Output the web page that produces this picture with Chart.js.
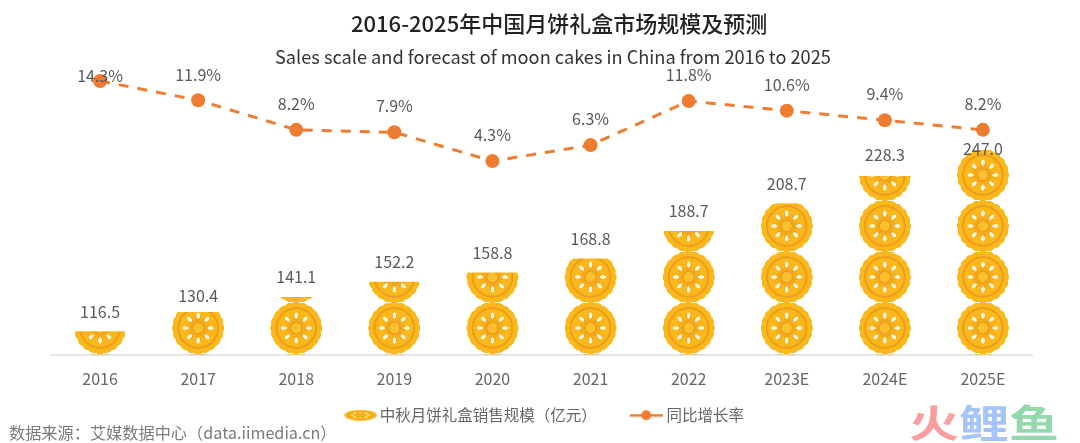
<!DOCTYPE html>
<html lang="zh">
<head>
<meta charset="utf-8">
<title>2016-2025年中国月饼礼盒市场规模及预测</title>
<script src="https://cdn.jsdelivr.net/npm/chart.js@4"></script>
<style>
  html, body { margin: 0; padding: 0; background: #fff; }
  #wrap { position: relative; width: 1080px; height: 443px; overflow: hidden; font-family: "Noto Sans CJK SC", sans-serif; }
  #grafico { position: absolute; left: 0; top: 0; }
  #titulo { position: absolute; left: 351px; top: 8px; font-size: 22px; line-height: 28px; font-weight: 500; color: #222; white-space: nowrap; }
  #subtitulo { position: absolute; left: 275px; top: 43px; font-size: 18.2px; line-height: 26px; color: #333; white-space: nowrap; }
  #fonte { position: absolute; left: 9px; top: 422px; font-size: 16.2px; line-height: 21px; color: #7a7a7a; white-space: nowrap; }
  #marca { position: absolute; left: 909px; top: 392px; font-size: 50px; line-height: 56px; font-weight: 700; white-space: nowrap; transform: scaleY(0.76); }
  #marca span { display: inline-block; width: 50px; text-align: center; }
</style>
</head>
<body>
<div id="wrap">
  <canvas id="grafico" width="1080" height="443"></canvas>
  <div id="titulo">2016-2025年中国月饼礼盒市场规模及预测</div>
  <div id="subtitulo">Sales scale and forecast of moon cakes in China from 2016 to 2025</div>
  <div id="fonte">数据来源：艾媒数据中心（data.iimedia.cn）</div>
  <div id="marca"><span style="color:#fb9ea0">火</span><span style="color:#a5c4fa">鲤</span><span style="color:#95d8ae">鱼</span></div>
</div>
<script>
// ---- data ----
const categorias = ['2016', '2017', '2018', '2019', '2020', '2021', '2022', '2023E', '2024E', '2025E'];
const vendas = [116.5, 130.4, 141.1, 152.2, 158.8, 168.8, 188.7, 208.7, 228.3, 247.0];
const crescimento = [14.3, 11.9, 8.2, 7.9, 4.3, 6.3, 11.8, 10.6, 9.4, 8.2];
const nomeVendas = '中秋月饼礼盒销售规模（亿元）';
const nomeCrescimento = '同比增长率';

const COR_LINHA = '#ee7d31';
const COR_TEXTO = '#595959';
const ALTURA_BOLO = 51;
const LARGURA_BOLO = 54;
const ESCALA_TILE = 3;

// one moon cake, repeated inside the bars as a pattern
function desenharBolo(ctx, cx, cy, r) {
    ctx.beginPath();
    for (let g = 0; g <= 720; g++) {
        const t = g * Math.PI / 360;
        const raio = r * (0.965 + 0.035 * Math.abs(Math.cos(t * 10)));
        ctx.lineTo(cx + raio * Math.cos(t), cy + raio * Math.sin(t));
    }
    ctx.closePath();
    ctx.fillStyle = '#fbb81c';
    ctx.fill();

    ctx.beginPath();
    ctx.arc(cx, cy, r * 0.76, 0, Math.PI * 2);
    ctx.strokeStyle = '#ee9f1a';
    ctx.lineWidth = r * 0.08;
    ctx.stroke();

    // flower: orange lobes, pale petals with white tips, centre ring
    for (let i = 0; i < 8; i++) {
        ctx.save();
        ctx.translate(cx, cy);
        ctx.rotate(i * Math.PI / 4);
        ctx.beginPath();
        ctx.moveTo(r * 0.1, 0);
        ctx.quadraticCurveTo(r * 0.36, r * 0.24, r * 0.64, 0);
        ctx.quadraticCurveTo(r * 0.36, -r * 0.24, r * 0.1, 0);
        ctx.closePath();
        ctx.fillStyle = '#f5aa1b';
        ctx.fill();
        ctx.beginPath();
        ctx.ellipse(r * 0.48, 0, r * 0.12, r * 0.07, 0, 0, Math.PI * 2);
        ctx.fillStyle = '#fff6d8';
        ctx.fill();
        ctx.restore();
    }
    ctx.beginPath();
    ctx.arc(cx, cy, r * 0.22, 0, Math.PI * 2);
    ctx.fillStyle = '#fbc02d';
    ctx.fill();
    ctx.strokeStyle = '#ee9f1a';
    ctx.lineWidth = r * 0.06;
    ctx.stroke();
}

const tile = document.createElement('canvas');
tile.width = LARGURA_BOLO * ESCALA_TILE;
tile.height = ALTURA_BOLO * ESCALA_TILE;
desenharBolo(tile.getContext('2d'), tile.width / 2, tile.height / 2, tile.height / 2 + 1.5);

function padraoBarra(context) {
    const chart = context.chart;
    if (context.dataIndex === undefined || !chart.scales.x) return '#fbb81c';
    const ctx = chart.ctx;
    const padrao = ctx.createPattern(tile, 'repeat');
    const x0 = chart.scales.x.getPixelForValue(context.dataIndex) - LARGURA_BOLO / 2;
    const y0 = chart.scales.y.getPixelForValue(chart.scales.y.min);
    padrao.setTransform(new DOMMatrix().translate(x0, y0 - 1).scale(1 / ESCALA_TILE));
    return padrao;
}

// legend icons, the extra canvas width on the left nudges them to the right
function iconeVendas() {
    const c = document.createElement('canvas');
    c.width = 43;
    c.height = 11;
    const g = c.getContext('2d');
    g.save();
    g.translate(10, 0);
    g.scale(1, 11 / 33);
    desenharBolo(g, 16.5, 16.5, 16.5);
    g.restore();
    return c;
}

function iconeLinha() {
    const c = document.createElement('canvas');
    c.width = 41;
    c.height = 12;
    const g = c.getContext('2d');
    g.translate(8, 0);
    g.fillStyle = COR_LINHA;
    g.fillRect(0, 5, 12, 2.5);
    g.fillRect(21, 5, 12, 2.5);
    g.beginPath();
    g.arc(16.5, 6, 5, 0, Math.PI * 2);
    g.fill();
    return c;
}

// value labels, the library has none of its own
const sobeVendas = [20, 16, 20, 20, 20, 20, 20, 20, 21, 1];
const sobeCrescimento = [5, 25, 26, 26, 26, 26, 26, 26, 26, 26];

const rotulos = {
    id: 'rotulos',
    afterDatasetsDraw(chart) {
        const ctx = chart.ctx;
        ctx.save();
        ctx.font = '16px "Noto Sans CJK SC"';
        ctx.fillStyle = COR_TEXTO;
        ctx.textAlign = 'center';
        ctx.textBaseline = 'middle';
        chart.getDatasetMeta(0).data.forEach((el, i) => {
            ctx.fillText(vendas[i].toFixed(1), el.x, el.y - sobeVendas[i]);
        });
        chart.getDatasetMeta(1).data.forEach((el, i) => {
            ctx.fillText(crescimento[i].toFixed(1) + '%', el.x, el.y - sobeCrescimento[i]);
        });
        ctx.restore();
    }
};

new Chart(document.getElementById('grafico'), {
    type: 'bar',
    data: {
        labels: categorias,
        datasets: [
            {
                type: 'bar',
                label: nomeVendas,
                data: vendas,
                yAxisID: 'y',
                order: 2,
                barThickness: LARGURA_BOLO,
                borderWidth: 0,
                backgroundColor: padraoBarra
            },
            {
                type: 'line',
                label: nomeCrescimento,
                data: crescimento,
                yAxisID: 'y1',
                order: 1,
                borderColor: COR_LINHA,
                backgroundColor: COR_LINHA,
                borderWidth: 3,
                borderDash: [10, 9],
                tension: 0,
                pointRadius: 7,
                pointHoverRadius: 7,
                pointBackgroundColor: COR_LINHA,
                pointBorderWidth: 0
            }
        ]
    },
    options: {
        responsive: false,
        animation: false,
        layout: { padding: { top: 70, left: 51, right: 48, bottom: 10 } },
        plugins: {
            legend: {
                position: 'bottom',
                labels: {
                    usePointStyle: true,
                    pointStyleWidth: 33,
                    boxHeight: 12,
                    color: '#666',
                    padding: 10,
                    font: { family: '"Noto Sans CJK SC"', size: 15.5 },
                    generateLabels: () => [
                        { text: nomeVendas + '\u3000\u2002\u00a0', pointStyle: iconeVendas(), fontColor: '#666', datasetIndex: 0, lineWidth: 0 },
                        { text: nomeCrescimento, pointStyle: iconeLinha(), fontColor: '#666', datasetIndex: 1, lineWidth: 0 }
                    ]
                }
            },
            tooltip: { enabled: false }
        },
        scales: {
            x: {
                grid: { display: false, drawTicks: false },
                border: { display: true, color: '#e6e6e6', width: 2 },
                ticks: {
                    color: '#666',
                    padding: 15,
                    font: { family: '"Noto Sans CJK SC"', size: 16 }
                },
                afterFit: escala => { escala.height = 43; }
            },
            y: { display: false, min: 100, max: 304.8 },
            y1: { display: false, min: -19.83, max: 15.67 }
        }
    },
    plugins: [rotulos]
});
</script>
</body>
</html>
